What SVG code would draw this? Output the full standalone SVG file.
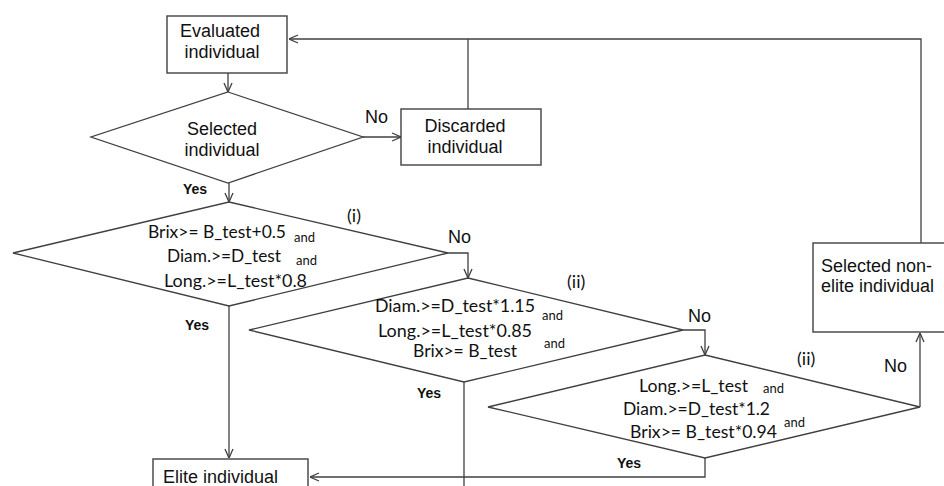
<svg xmlns="http://www.w3.org/2000/svg" width="944" height="486" viewBox="0 0 944 486">
<style>
.box{fill:#fff;stroke:#404040;stroke-width:1.4}
.dia{fill:#fff;stroke:#404040;stroke-width:1.3}
.ln{fill:none;stroke:#404040;stroke-width:1.3}
.lbl{font-family:"Liberation Sans",Arial,sans-serif;font-size:18px;fill:#111}
.cond{font-family:Lato,"Open Sans",sans-serif;font-size:16.5px;fill:#111}
.and{font-family:Lato,"Open Sans",sans-serif;font-size:13px;fill:#111}
.yes{font-family:"Liberation Sans",Arial,sans-serif;font-size:14px;font-weight:bold;fill:#111}
.no{font-family:"Liberation Sans",Arial,sans-serif;font-size:18px;fill:#111}
.rn{font-family:Lato,"Open Sans",sans-serif;font-size:18px;fill:#111}
</style>
<defs>
<marker id="ah" viewBox="0 0 10 10" refX="10" refY="5" markerWidth="10" markerHeight="10" markerUnits="userSpaceOnUse" orient="auto">
<path d="M1,1 L10,5 L1,9" fill="none" stroke="#404040" stroke-width="1.3"/>
</marker>
</defs>
<rect width="944" height="486" fill="#fff"/>
<g id="connectors">
<line class="ln" x1="228" y1="73" x2="228" y2="92" marker-end="url(#ah)"/>
<line class="ln" x1="363" y1="137" x2="401" y2="137" marker-end="url(#ah)"/>
<polyline class="ln" points="921,243 921,39 289,39" marker-end="url(#ah)"/>
<line class="ln" x1="468" y1="39" x2="468" y2="109"/>
<line class="ln" x1="229" y1="183" x2="229" y2="202" marker-end="url(#ah)"/>
<polyline class="ln" points="448,253 468,253 468,278" marker-end="url(#ah)"/>
<line class="ln" x1="229" y1="306" x2="229" y2="458" marker-end="url(#ah)"/>
<polyline class="ln" points="683,330 705,330 705,355" marker-end="url(#ah)"/>
<line class="ln" x1="464" y1="382" x2="464" y2="486"/>
<polyline class="ln" points="705,458 705,477 310,477" marker-end="url(#ah)"/>
<line class="ln" x1="920" y1="407" x2="920" y2="333" marker-end="url(#ah)"/>
</g>
<g id="evaluated">
<rect class="box" x="167" y="16" width="120" height="57"/>
<text class="lbl" x="220" y="37" text-anchor="middle">Evaluated</text>
<text class="lbl" x="222" y="58" text-anchor="middle">individual</text>
</g>
<g id="selected">
<polygon class="dia" points="228,92 363,137 228,183 91,137"/>
<text class="lbl" x="222" y="135" text-anchor="middle">Selected</text>
<text class="lbl" x="222" y="156" text-anchor="middle">individual</text>
<text class="no" x="365" y="123">No</text>
<text class="yes" x="183" y="194">Yes</text>
</g>
<g id="discarded">
<rect class="box" x="401" y="109" width="140" height="56"/>
<text class="lbl" x="465" y="132" text-anchor="middle">Discarded</text>
<text class="lbl" x="465" y="153" text-anchor="middle">individual</text>
</g>
<g id="cond1">
<polygon class="dia" points="229,202 448,253 229,306 13,253"/>
<text class="cond" x="148" y="238" textLength="138" lengthAdjust="spacingAndGlyphs">Brix&gt;= B_test+0.5</text>
<text class="and" x="294" y="242">and</text>
<text class="cond" x="167" y="262" textLength="114" lengthAdjust="spacingAndGlyphs">Diam.&gt;=D_test</text>
<text class="and" x="296" y="265">and</text>
<text class="cond" x="164" y="287" textLength="143" lengthAdjust="spacingAndGlyphs">Long.&gt;=L_test*0.8</text>
<text class="rn" x="347" y="222">(i)</text>
<text class="no" x="448" y="243">No</text>
<text class="yes" x="185" y="330">Yes</text>
</g>
<g id="cond2">
<polygon class="dia" points="468,278 683,330 464,382 249,330"/>
<text class="cond" x="375" y="312" textLength="160" lengthAdjust="spacingAndGlyphs">Diam.&gt;=D_test*1.15</text>
<text class="and" x="542" y="320">and</text>
<text class="cond" x="378" y="337" textLength="154" lengthAdjust="spacingAndGlyphs">Long.&gt;=L_test*0.85</text>
<text class="cond" x="413" y="357" textLength="104" lengthAdjust="spacingAndGlyphs">Brix&gt;= B_test</text>
<text class="and" x="544" y="348">and</text>
<text class="rn" x="567" y="288">(ii)</text>
<text class="no" x="688" y="322">No</text>
<text class="yes" x="417" y="398">Yes</text>
</g>
<g id="cond3">
<polygon class="dia" points="705,355 920,407 705,458 488,407"/>
<text class="cond" x="639" y="392" textLength="109" lengthAdjust="spacingAndGlyphs">Long.&gt;=L_test</text>
<text class="and" x="763" y="393">and</text>
<text class="cond" x="623" y="415" textLength="147" lengthAdjust="spacingAndGlyphs">Diam.&gt;=D_test*1.2</text>
<text class="cond" x="630" y="438" textLength="147" lengthAdjust="spacingAndGlyphs">Brix&gt;= B_test*0.94</text>
<text class="and" x="784" y="427">and</text>
<text class="rn" x="797" y="365">(ii)</text>
<text class="no" x="884" y="372">No</text>
<text class="yes" x="617" y="468">Yes</text>
</g>
<g id="nonelite">
<rect class="box" x="813" y="243" width="140" height="89"/>
<text class="lbl" x="821" y="272">Selected non-</text>
<text class="lbl" x="821" y="292">elite individual</text>
</g>
<g id="elite">
<rect class="box" x="153" y="459" width="155" height="40"/>
<text class="lbl" x="163" y="483">Elite individual</text>
</g>
</svg>
